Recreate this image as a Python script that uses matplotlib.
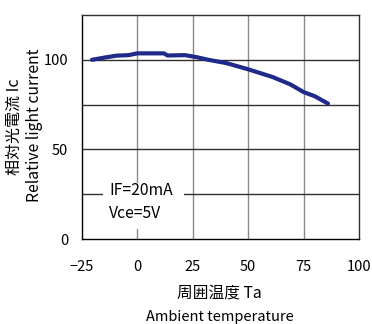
import matplotlib
matplotlib.use('Agg')
import matplotlib.pyplot as plt
from matplotlib.patches import Rectangle

plt.rcParams['font.family'] = ['Noto Sans CJK JP', 'DejaVu Sans']

# curve
temps = [-20.5, -15, -9.5, -4, 0, 6, 12, 13.6, 21.5, 27, 32, 40, 50, 61, 69, 75, 80, 86]
rel_current = [100, 101.2, 102.3, 102.6, 103.6, 103.6, 103.6, 102.4, 102.6, 101.4, 100, 98.2, 94.7, 90.4, 86.3, 82, 79.7, 75.6]

x_ticks = [-25, 0, 25, 50, 75, 100]
y_grid = [25, 50, 75, 100]
y_labels = [0, 50, 100]

fig = plt.figure(figsize=(3.72, 3.24), dpi=100)
ax = fig.add_axes([0.2204, 0.2623, 0.7446, 0.6914])

ax.set_xlim(-25, 100)
ax.set_ylim(0, 125)

for t in x_ticks[1:-1]:
    ax.axvline(t, color='#8a8a8a', lw=1.0, zorder=1)
for v in y_grid:
    ax.axhline(v, color='#303030', lw=1.0, zorder=1)

# condition box
ax.add_patch(Rectangle((-15.5, 5.6), 36.5, 25.6, facecolor='white', edgecolor='none', zorder=2))
ax.text(-12.6, 26.8, 'IF=20mA', fontsize=11.3, va='center', ha='left', zorder=3)
ax.text(-12.6, 14.5, 'Vce=5V', fontsize=11.3, va='center', ha='left', zorder=3)

ax.plot(temps, rel_current, color='#1f2a8a', lw=3.0, solid_capstyle='round', zorder=4)

ax.set_xticks(x_ticks)
ax.set_yticks(y_labels)
ax.tick_params(axis='both', length=0, labelsize=10.5)
ax.tick_params(axis='x', pad=15)
ax.tick_params(axis='y', pad=10)

for s in ['top', 'right']:
    ax.spines[s].set_color('#303030')
for s in ax.spines.values():
    s.set_linewidth(1.0)

fig.text(0.038, 0.608, '相対光電流 Ic', rotation=90, fontsize=11.5, ha='center', va='center')
fig.text(0.092, 0.614, 'Relative light current', rotation=90, fontsize=11.3, ha='center', va='center')
fig.text(0.59, 0.096, '周囲温度 Ta', fontsize=11.3, ha='center', va='center')
fig.text(0.59, 0.022, 'Ambient temperature', fontsize=10.5, ha='center', va='center')

plt.savefig('out.png', dpi=100)
